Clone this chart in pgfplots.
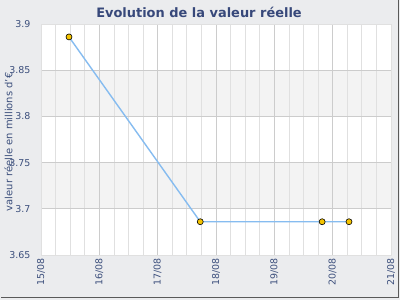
\documentclass[border=0pt]{standalone}
\usepackage{fontspec}
\setmainfont{DejaVu Sans}
\usepackage{pgfplots}
\pgfplotsset{compat=1.18}
\definecolor{bgc}{HTML}{EBECEE}
\definecolor{txtc}{HTML}{3C4F7C}
\definecolor{titc}{HTML}{37487A}
\definecolor{linec}{HTML}{86BCF0}
\definecolor{markc}{HTML}{F5C400}
\definecolor{bandc}{HTML}{F3F3F3}
\definecolor{majg}{HTML}{CCCCCC}
\definecolor{ming}{HTML}{E0E0E0}
\begin{document}
\begin{tikzpicture}[x=1bp,y=1bp]
\fill[bgc] (0,0) rectangle (400,300);
\useasboundingbox (0,0) rectangle (400,300);
\draw[black!65,line width=1.5bp] (1,2.5) -- (398.5,2.5) -- (398.5,300);
\node[font=\bfseries\fontsize{13}{15}\selectfont,text=titc] at (199,288) {Evolution de la valeur réelle};
\begin{axis}[
  at={(41bp,45bp)}, anchor=south west,
  scale only axis, width=350bp, height=231bp,
  xmin=0, xmax=6, ymin=3.65, ymax=3.9,
  xtick={0,1,2,3,4,5,6},
  xticklabels={15/08,16/08,17/08,18/08,19/08,20/08,21/08},
  minor x tick num=3,
  ytick={3.65,3.7,3.75,3.8,3.85,3.9},
  yticklabels={3.65,3.7,3.75,3.8,3.85,3.9},
  xmajorgrids, xminorgrids, ymajorgrids,
  major grid style={draw=majg, line width=0.8bp},
  minor grid style={draw=ming, line width=0.8bp},
  axis line style={draw=ming},
  tick style={draw=none},
  axis background/.style={fill=white, path picture={
    \fill[bandc] ([yshift=138.6bp]path picture bounding box.south west) rectangle ([yshift=-46.2bp]path picture bounding box.north east);
    \fill[bandc] ([yshift=46.2bp]path picture bounding box.south west) rectangle ([yshift=-138.6bp]path picture bounding box.north east);
  }},
  ticklabel style={font=\fontsize{9.5}{11}\selectfont, text=txtc},
  xticklabel style={rotate=90, anchor=east},
  yticklabel style={xshift=-7bp},
  ylabel={valeur réelle en millions d'€},
  ylabel style={font=\fontsize{10}{12}\selectfont, text=txtc, at={(axis description cs:-0.093,0.49)}, anchor=center},
  clip=false,
]
\addplot[color=linec, line width=1.4bp, mark=*, mark size=3bp,
  mark options={fill=markc, draw=black, line width=0.6bp}]
  coordinates {(0.48,3.886) (2.73,3.686) (4.82,3.686) (5.28,3.686)};
\end{axis}
\end{tikzpicture}
\end{document}
